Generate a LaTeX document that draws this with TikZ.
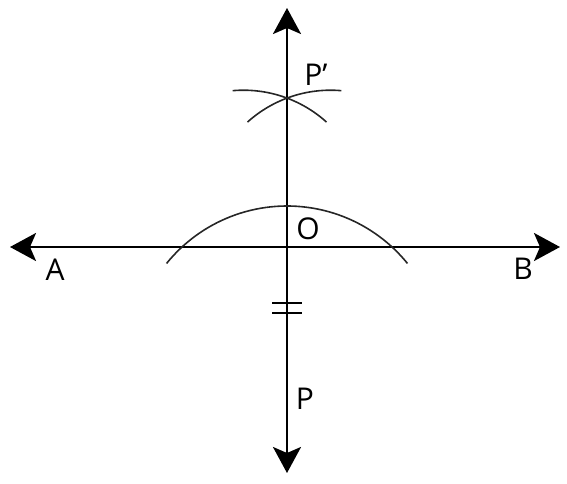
\documentclass[tikz,border=0pt]{standalone}
\usepackage{fontspec}
\setmainfont{Open Sans}
\usetikzlibrary{arrows.meta}
\tikzset{
  axis/.style={line width=2.6pt, {Stealth[length=26pt,width=28pt,inset=6pt]}-{Stealth[length=26pt,width=28pt,inset=6pt]}},
  arcline/.style={line width=1.6pt, black!85},
  tick/.style={line width=1.8pt},
  lbl/.style={font=\fontsize{30}{30}\selectfont, inner sep=0pt}
}
\begin{document}
\begin{tikzpicture}[x=1pt, y=1pt]
  \useasboundingbox (0,0) rectangle (567,483);
  \coordinate (O) at (287, 236);
  \coordinate (left) at (10, 236);
  \coordinate (right) at (560, 236);
  \coordinate (top) at (287, 475);
  \coordinate (bottom) at (287, 10);
  \coordinate (P) at (287, 122);

  % perpendicular and line AB
  \draw[axis] (left) -- (right);
  \draw[axis] (top) -- (bottom);

  % arc about P cutting AB
  \draw[arcline] (P) ++(141:155) arc[start angle=141, end angle=39, radius=155];
  % arcs meeting at P'
  \draw[arcline] (330.5, 268.8) ++(132:124) arc[start angle=132, end angle=85, radius=124];
  \draw[arcline] (243.5, 268.8) ++(95:124) arc[start angle=95, end angle=48, radius=124];

  % equal marks
  \draw[tick] (272, 180) -- (302, 180);
  \draw[tick] (272, 170) -- (302, 170);

  \node[lbl] (labP') at (316, 408) {P’};
  \node[lbl] (labO) at (308, 254) {O};
  \node[lbl] (labA) at (55, 213) {A};
  \node[lbl] (labB) at (523, 214) {B};
  \node[lbl] (labP) at (305, 84) {P};
\end{tikzpicture}
\end{document}
